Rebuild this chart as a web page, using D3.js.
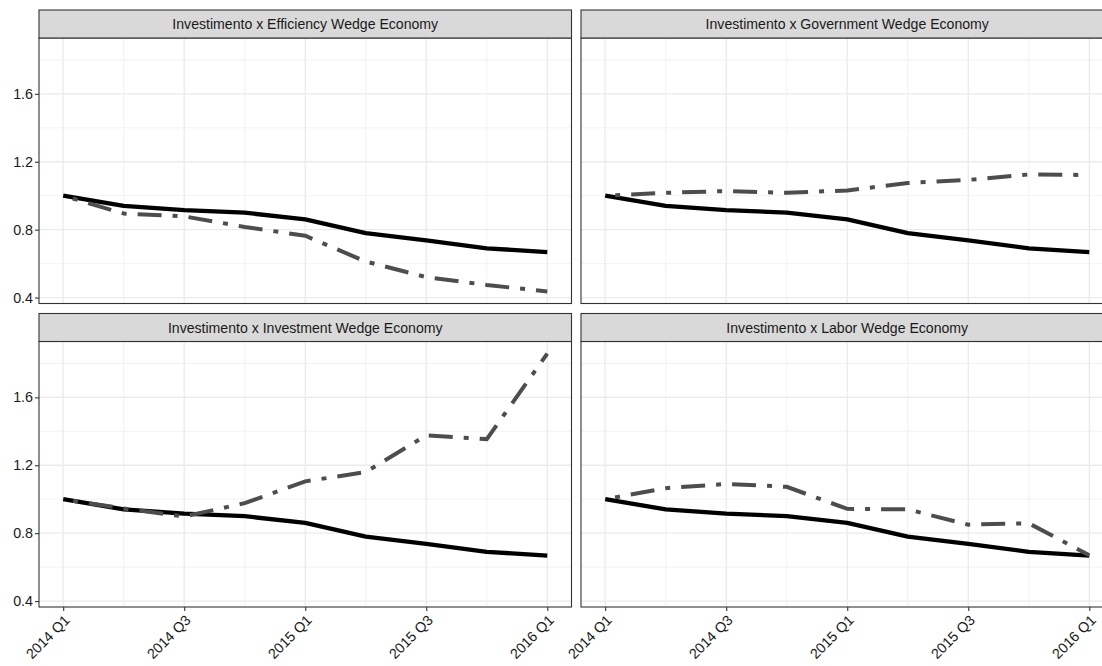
<!DOCTYPE html>
<html>
<head>
<meta charset="utf-8">
<script src="https://cdn.jsdelivr.net/npm/d3@7"></script>
<style>
  body { margin: 0; background: #fff; }
  text { font-family: "Liberation Sans", Arial, sans-serif; }
</style>
</head>
<body>
<svg id="chart"></svg>
<script>
// quarters on the x axis
const quarters = ['2014 Q1', '2014 Q2', '2014 Q3', '2014 Q4', '2015 Q1', '2015 Q2', '2015 Q3', '2015 Q4', '2016 Q1'];
const labelledQuarters = ['2014 Q1', '2014 Q3', '2015 Q1', '2015 Q3', '2016 Q1'];
const yTicks = [0.4, 0.8, 1.2, 1.6];
const yMinor = [0.6, 1.0, 1.4, 1.8];

// observed investment (solid line, same in all panels)
const investimento = [1.0, 0.94, 0.915, 0.9, 0.86, 0.78, 0.737, 0.69, 0.668];

// model economies (dashed lines)
const efficiencyWedge = [1.0, 0.895, 0.878, 0.816, 0.764, 0.612, 0.52, 0.474, 0.436];
const governmentWedge = [1.0, 1.017, 1.027, 1.017, 1.031, 1.075, 1.093, 1.125, 1.122];
const investmentWedge = [1.0, 0.945, 0.898, 0.977, 1.105, 1.16, 1.376, 1.354, 1.858];
const laborWedge = [1.0, 1.065, 1.09, 1.073, 0.943, 0.94, 0.85, 0.858, 0.67];

const panelTitles = [
    'Investimento x Efficiency Wedge Economy',
    'Investimento x Government Wedge Economy',
    'Investimento x Investment Wedge Economy',
    'Investimento x Labor Wedge Economy'
];
const panelSeries = [efficiencyWedge, governmentWedge, investmentWedge, laborWedge];

const width = 1102, height = 666;
const svg = d3.select('#chart').attr('width', width).attr('height', height);

const panelW = 532.5;
const colX = [39, 581];
const rowStrip = [10, 313.5];
const stripH = 28;
const panelH = 265.5;

// shared y scale with ggplot-like 5% expansion
const allVals = investimento.concat(...panelSeries);
const ext = d3.extent(allVals);
const pad = (ext[1] - ext[0]) * 0.05;

panelSeries.forEach((series, i) => {
    let col = i % 2, row = Math.floor(i / 2);
    let left = colX[col];
    let top = rowStrip[row] + stripH;

    let x = d3.scalePoint().domain(quarters).range([left, left + panelW]).padding(0.4);
    let y = d3.scaleLinear().domain([ext[0] - pad, ext[1] + pad]).range([top + panelH, top]);

    let g = svg.append('g').attr('class', 'panel');

    // grid
    g.append('g').selectAll('line.ymin').data(yMinor).enter().append('line')
        .attr('x1', left).attr('x2', left + panelW)
        .attr('y1', d => y(d)).attr('y2', d => y(d))
        .attr('stroke', '#efefef').attr('stroke-width', 0.8);
    g.append('g').selectAll('line.xmin').data(quarters.filter(q => labelledQuarters.indexOf(q) < 0)).enter().append('line')
        .attr('x1', d => x(d)).attr('x2', d => x(d))
        .attr('y1', top).attr('y2', top + panelH)
        .attr('stroke', '#efefef').attr('stroke-width', 0.8);
    g.append('g').selectAll('line.ymaj').data(yTicks).enter().append('line')
        .attr('x1', left).attr('x2', left + panelW)
        .attr('y1', d => y(d)).attr('y2', d => y(d))
        .attr('stroke', '#ebebeb').attr('stroke-width', 1.3);
    g.append('g').selectAll('line.xmaj').data(labelledQuarters).enter().append('line')
        .attr('x1', d => x(d)).attr('x2', d => x(d))
        .attr('y1', top).attr('y2', top + panelH)
        .attr('stroke', '#ebebeb').attr('stroke-width', 1.3);

    let line = d3.line().x((d, k) => x(quarters[k])).y(d => y(d)).curve(d3.curveLinear);

    g.append('path').datum(investimento)
        .attr('d', line)
        .attr('fill', 'none')
        .attr('stroke', '#000')
        .attr('stroke-width', 4.3)
        .attr('stroke-linejoin', 'round');

    g.append('path').datum(series)
        .attr('d', line)
        .attr('fill', 'none')
        .attr('stroke', '#4d4d4d')
        .attr('stroke-width', 4)
        .attr('stroke-dasharray', '5,11,24,11')
        .attr('stroke-dashoffset', -10);

    // panel border
    g.append('rect')
        .attr('x', left).attr('y', top).attr('width', panelW).attr('height', panelH)
        .attr('fill', 'none').attr('stroke', '#333').attr('stroke-width', 1.1);

    // strip
    g.append('rect')
        .attr('x', left).attr('y', rowStrip[row]).attr('width', panelW).attr('height', stripH)
        .attr('fill', '#d9d9d9').attr('stroke', '#333').attr('stroke-width', 1.1);
    g.append('text')
        .attr('x', left + panelW / 2).attr('y', rowStrip[row] + stripH / 2 + 5)
        .attr('text-anchor', 'middle')
        .attr('fill', '#1a1a1a')
        .style('font-size', '14.1px')
        .text(panelTitles[i]);

    // y axis on the left column
    if (col === 0) {
        let ay = g.append('g').attr('transform', 'translate(' + left + ',0)')
            .call(d3.axisLeft(y).tickValues(yTicks).tickFormat(d3.format('.1f')).tickSize(4).tickPadding(2));
        ay.select('.domain').remove();
        ay.selectAll('line').attr('stroke', '#333').attr('stroke-width', 1.1);
        ay.selectAll('text').attr('fill', '#1a1a1a').style('font-size', '14.3px')
            .style('font-family', '"Liberation Sans", Arial, sans-serif');
    }

    // x axis on the bottom row
    if (row === 1) {
        let ax = g.append('g').attr('transform', 'translate(0,' + (top + panelH) + ')')
            .call(d3.axisBottom(x).tickValues(labelledQuarters).tickSize(4));
        ax.select('.domain').remove();
        ax.selectAll('line').attr('stroke', '#333').attr('stroke-width', 1.1);
        ax.selectAll('text')
            .attr('fill', '#1a1a1a')
            .style('font-size', '14.3px')
            .style('font-family', '"Liberation Sans", Arial, sans-serif')
            .attr('text-anchor', 'end')
            .attr('dy', null)
            .attr('y', 0)
            .attr('transform', 'translate(7,14) rotate(-45)');
    }
});
</script>
</body>
</html>
